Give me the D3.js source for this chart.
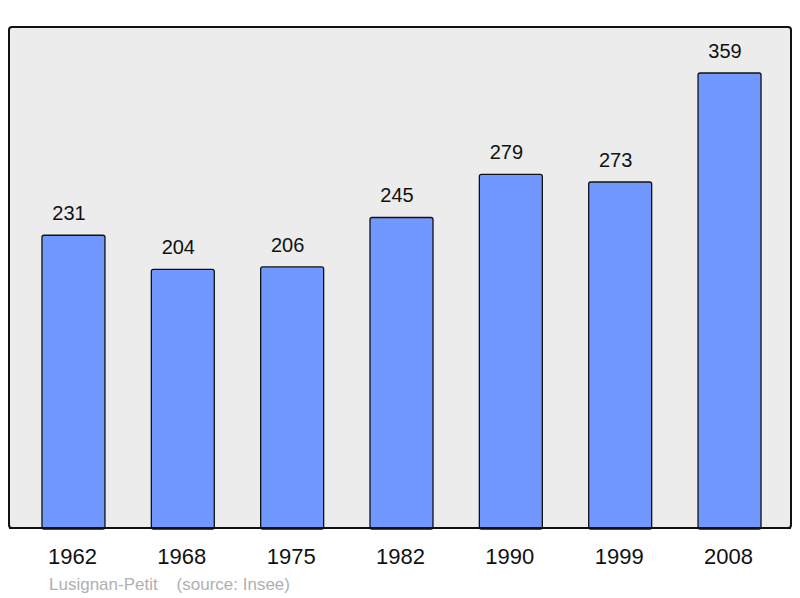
<!DOCTYPE html>
<html><head><meta charset="utf-8">
<script src="https://cdn.jsdelivr.net/npm/d3@7"></script>
<style>body{margin:0;background:#fff}svg{display:block}</style>
</head><body>
<script>
const years = ["1962","1968","1975","1982","1990","1999","2008"];
const population = [231,204,206,245,279,273,359];
const title = "Lusignan-Petit    (source: Insee)";

const W=800,H=598;
const svg=d3.select("body").append("svg").attr("width",W).attr("height",H);
const plot={x0:9,y0:27,x1:791,y1:528};
svg.append("rect").attr("x",plot.x0).attr("y",plot.y0).attr("width",plot.x1-plot.x0).attr("height",plot.y1-plot.y0)
  .attr("rx",3).attr("fill","#ececec").attr("stroke","#111").attr("stroke-width",2);

const x=d3.scaleBand().domain(years).range([18.8,784.2]).paddingInner(0.424).paddingOuter(0.212);
const y=d3.scaleLinear().domain([0,395.3]).range([528,27]);

const g=svg.append("g");
g.selectAll("rect.bar").data(years).join("rect").attr("class","bar")
  .attr("x",d=>x(d)).attr("width",x.bandwidth())
  .attr("y",(d,i)=>y(population[i])).attr("height",(d,i)=>y(0)-y(population[i])+1)
  .attr("rx",2).attr("fill","#7098ff").attr("stroke","#111").attr("stroke-width",1.3);

g.selectAll("text.val").data(years).join("text").attr("class","val")
  .attr("x",d=>x(d)+x.bandwidth()/2-4.5).attr("y",(d,i)=>y(population[i])-15)
  .attr("text-anchor","middle").attr("font-family","Liberation Sans, Arial, sans-serif")
  .attr("font-size",20).attr("fill","#111").text((d,i)=>population[i]);

svg.append("line").attr("x1",plot.x0).attr("x2",plot.x1).attr("y1",plot.y1).attr("y2",plot.y1).attr("stroke","#111").attr("stroke-width",2);

const axis=d3.axisBottom(x).tickSize(0).tickPadding(0);
const ax=svg.append("g").attr("transform","translate(-1,548)").call(axis);
ax.select(".domain").remove();
ax.selectAll("text").attr("font-family","Liberation Sans, Arial, sans-serif").attr("font-size",22).attr("fill","#111").attr("dy","0.71em");

svg.append("text").attr("x",49).attr("y",590).attr("font-family","Liberation Sans, Arial, sans-serif")
  .attr("font-size",17).attr("fill","#b0b0b0").attr("xml:space","preserve").style("white-space","pre").text(title);
</script>
</body></html>
